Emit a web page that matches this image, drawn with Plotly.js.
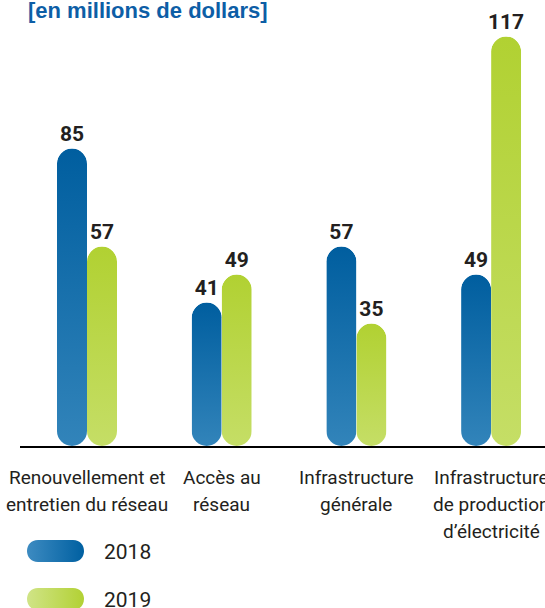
<!DOCTYPE html>
<html><head><meta charset="utf-8">
<script src="https://cdn.plot.ly/plotly-3.0.1.min.js"></script>
<style>html,body{margin:0;padding:0;background:#fff;overflow:hidden}</style>
</head><body>
<div id="chart" style="width:545px;height:608px"></div>
<script>
// ---- data ----
const categories = ["Renouvellement et<br>entretien du réseau", "Accès au<br>réseau", "Infrastructure<br>générale", "Infrastructure<br>de production<br>d’électricité"];
const seriesNames = ["2018", "2019"];
const values2018 = [85, 41, 57, 49];
const values2019 = [57, 49, 35, 117];
const chartTitle = "[en millions de dollars]";

// ---- styles ----
const colors = {
  "2018": {top: "#005e9f", bottom: "#3284ba", left: "#3d8bc1", right: "#0060a1"},
  "2019": {top: "#b1d132", bottom: "#c5de66", left: "#d0e487", right: "#b2d134"}
};
const fam = "Roboto, sans-serif";
const textColor = "#231f20";
const W = 545, H = 608, M = {l: 20, r: 0, t: 30, b: 162};
const plotW = W - M.l - M.r, plotH = H - M.t - M.b;
const pxPerUnit = 3.5;
const catStep = 134.7, firstCatPx = 87, barPx = 30;
const xMin = -(firstCatPx - M.l) / catStep;
const xMax = xMin + plotW / catStep;
const barW = barPx / catStep;
const px2x = p => (p - M.l) / plotW;
const px2y = p => (M.t + plotH - p) / plotH;

const data = [
  [seriesNames[0], values2018, -barW],
  [seriesNames[1], values2019, 0]
].map(([name, vals, off]) => ({
  type: "bar", name: name, x: categories, y: vals,
  offset: off, width: barW,
  marker: {color: colors[name].top, cornerradius: "50%", line: {width: 0}},
  text: vals.map(String), textposition: "outside", constraintext: "none",
  textfont: {family: fam, size: 21, weight: 700, color: textColor},
  cliponaxis: false, hoverinfo: "skip", showlegend: false
}));

// legend pills (paper coords from pixel geometry)
function pill(x0, x1, y0, y1) {
  const r = (y1 - y0) / 2, k = r * 4 / 3;
  const X = px2x, Y = px2y;
  return `M ${X(x0+r)} ${Y(y0)} L ${X(x1-r)} ${Y(y0)} C ${X(x1-r+k)} ${Y(y0)} ${X(x1-r+k)} ${Y(y1)} ${X(x1-r)} ${Y(y1)} L ${X(x0+r)} ${Y(y1)} C ${X(x0+r-k)} ${Y(y1)} ${X(x0+r-k)} ${Y(y0)} ${X(x0+r)} ${Y(y0)} Z`;
}
const legendRows = [540, 588];
const shapes = seriesNames.map((n, i) => ({
  type: "path", xref: "paper", yref: "paper", layer: "above",
  path: pill(27, 84, legendRows[i], legendRows[i] + 22),
  fillcolor: colors[n].right, line: {width: 0}
}));
const annotations = seriesNames.map((n, i) => ({
  text: n, xref: "paper", yref: "paper", x: px2x(102), y: px2y(legendRows[i] + 11.5),
  xanchor: "left", yanchor: "middle", showarrow: false,
  font: {family: fam, size: 21, color: textColor}
}));
// category labels, one annotation per line
const labelSize = 19, firstBaseline = 483.5, lineStep = 27;
categories.forEach(cat => {
  cat.split("<br>").forEach((line, j) => {
    annotations.push({
      text: line, xref: "x", yref: "paper", x: cat,
      y: px2y(firstBaseline + j * lineStep - 0.342 * labelSize),
      xanchor: "center", yanchor: "middle", showarrow: false,
      font: {family: fam, size: labelSize, color: textColor}
    });
  });
});
annotations.push({
  text: chartTitle, xref: "paper", yref: "paper", x: px2x(26), y: px2y(10.5),
  xanchor: "left", yanchor: "middle", showarrow: false,
  font: {family: "Liberation Sans, Arial, sans-serif", size: 22, weight: 700, color: "#0d5ea6"}
});

const layout = {
  width: W, height: H, margin: M, barmode: "overlay",
  paper_bgcolor: "#fff", plot_bgcolor: "#fff", showlegend: false,
  xaxis: {type: "category", range: [xMin, xMax], showline: true, linecolor: "#000", linewidth: 2,
          ticks: "", showticklabels: false, automargin: false, showgrid: false, zeroline: false},
  yaxis: {range: [0, plotH / pxPerUnit], visible: false, showgrid: false, zeroline: false},
  shapes: shapes, annotations: annotations
};

Plotly.newPlot("chart", data, layout, {staticPlot: true, displayModeBar: false}).then(gd => {
  const svg = gd.querySelector("svg.main-svg");
  const defs = svg.querySelector("defs");
  const NS = "http://www.w3.org/2000/svg";
  function addGrad(id, c1, c2, coords) {
    const g = document.createElementNS(NS, "linearGradient");
    g.setAttribute("id", id);
    Object.keys(coords).forEach(k => g.setAttribute(k, coords[k]));
    [[0, c1], [1, c2]].forEach(([o, c]) => {
      const s = document.createElementNS(NS, "stop");
      s.setAttribute("offset", o); s.setAttribute("stop-color", c);
      g.appendChild(s);
    });
    defs.appendChild(g);
  }
  const traces = gd.querySelectorAll(".barlayer .trace");
  seriesNames.forEach((n, s) => {
    const c = colors[n];
    addGrad("bar" + n, c.top, c.bottom, {x1: 0, y1: 0, x2: 0, y2: 1});
    traces[s].querySelectorAll(".point path").forEach((p, i) => {
      p.style.fill = "url(#bar" + n + ")";
      // round the baseline end too: clip the bar to a pill of its own box
      const b = p.getBBox();
      const cp = document.createElementNS(NS, "clipPath");
      cp.setAttribute("id", "clip" + n + "_" + i);
      const r = document.createElementNS(NS, "rect");
      const rad = b.width / 2;
      r.setAttribute("x", b.x); r.setAttribute("y", b.y);
      r.setAttribute("width", b.width); r.setAttribute("height", b.height);
      r.setAttribute("rx", rad); r.setAttribute("ry", rad);
      cp.appendChild(r);
      defs.appendChild(cp);
      p.setAttribute("clip-path", "url(#clip" + n + "_" + i + ")");
    });
    addGrad("leg" + n, c.left, c.right, {x1: 0, y1: 0, x2: 1, y2: 0});
    const sp = gd.querySelector('.shapelayer path[data-index="' + s + '"]');
    if (sp) sp.style.fill = "url(#leg" + n + ")";
  });
});
</script>
</body></html>
